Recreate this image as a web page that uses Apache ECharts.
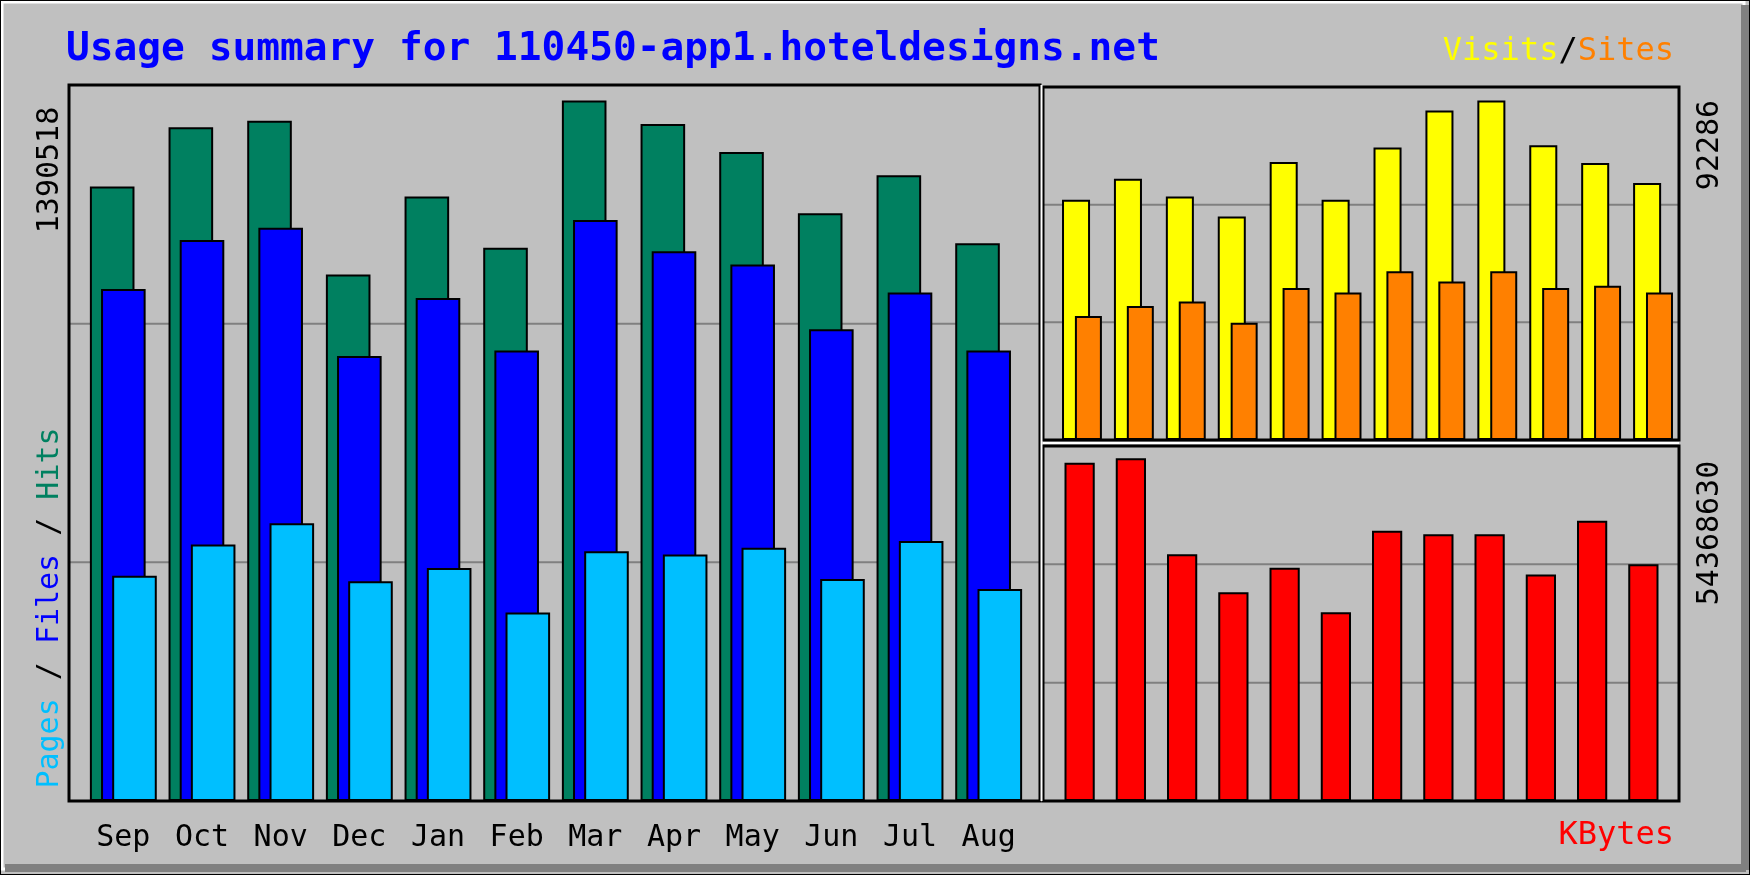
<!DOCTYPE html>
<html><head><meta charset="utf-8">
<script src="https://cdn.jsdelivr.net/npm/echarts@6/dist/echarts.min.js"></script>
<style>html,body{margin:0;padding:0;background:#c0c0c0}#c{width:1750px;height:875px}</style>
</head><body><div id="c"></div>
<script>
const months = ['Sep','Oct','Nov','Dec','Jan','Feb','Mar','Apr','May','Jun','Jul','Aug'];
const hits  = [1193500,1308300,1321300,1022400,1174000,1074300,1360200,1314800,1260600,1141500,1215100,1083000];
const files = [994200,1089500,1113300,864200,976900,875100,1128500,1067800,1041800,916200,987700,875100];
const pages = [437500,498200,539300,426700,452700,366100,485200,478700,491700,431000,504700,411500];
const visits = [62780,68330,63660,58400,72710,62780,76500,86140,88770,77090,72420,67160];
const sites  = [32410,35040,36210,30660,39710,38540,44090,41460,44090,39710,40300,38540];
const kbytes = [51804000,52488000,37784000,31971000,35733000,28894000,41375000,40862000,40862000,34707000,42913000,36246000];
const maxHits = 1390518, maxVisits = 92286, maxKB = 54368630;

const mono = '"DejaVu Sans Mono", monospace';
const chart = echarts.init(document.getElementById('c'));
const panels = [[69,85,971,716],[1043,87,636,353],[1043,446,636,355]];
const baseGraphic = [];
panels.forEach(p=>baseGraphic.push({type:'rect',z:0,shape:{x:p[0],y:p[1],width:p[2],height:p[3]},style:{fill:'#c0c0c0'}}));
const frameGraphic = [
 {type:'rect',z:20,shape:{x:2,y:2,width:1742,height:867},style:{fill:'none',stroke:'#fff',lineWidth:3}},
 {type:'rect',z:20,shape:{x:0,y:0,width:1750,height:875},style:{fill:'none',stroke:'#000',lineWidth:2}},
 {type:'line',z:20,shape:{x1:5,y1:868,x2:1746,y2:868},style:{stroke:'#808080',lineWidth:8}},
 {type:'line',z:20,shape:{x1:1745,y1:5,x2:1745,y2:870},style:{stroke:'#808080',lineWidth:8}},
 {type:'text',z:20,left:66,top:30,style:{text:'Usage summary for 110450-app1.hoteldesigns.net',font:'bold 39.5px '+mono,fill:'#0000ff'}},
 {type:'text',z:20,right:76,top:36,style:{text:'{v|Visits}/{s|Sites}',font:'32px '+mono,fill:'#000',rich:{v:{fill:'#ffff00',font:'32px '+mono},s:{fill:'#ff8000',font:'32px '+mono}}}},
 {type:'text',z:20,right:76,top:820,style:{text:'KBytes',font:'32px '+mono,fill:'#ff0000'}},
 {type:'text',z:20,x:50,y:170,rotation:Math.PI/2,style:{text:String(maxHits),font:'30px '+mono,fill:'#000',align:'center',verticalAlign:'middle'}},
 {type:'text',z:20,x:50,y:608,rotation:Math.PI/2,style:{text:'{p|Pages} / {f|Files} / {h|Hits}',font:'30px '+mono,fill:'#000',align:'center',verticalAlign:'middle',
   rich:{p:{fill:'#00bfff',font:'30px '+mono},f:{fill:'#0000ff',font:'30px '+mono},h:{fill:'#008060',font:'30px '+mono}}}},
 {type:'text',z:20,x:1710,y:145,rotation:Math.PI/2,style:{text:String(maxVisits),font:'30px '+mono,fill:'#000',align:'center',verticalAlign:'middle'}},
 {type:'text',z:20,x:1710,y:533,rotation:Math.PI/2,style:{text:String(maxKB),font:'30px '+mono,fill:'#000',align:'center',verticalAlign:'middle'}}
];
panels.forEach(p=>frameGraphic.push({type:'rect',z:15,shape:{x:p[0],y:p[1],width:p[2],height:p[3]},style:{fill:'none',stroke:'#000',lineWidth:3}}));
frameGraphic.push({type:'line',z:16,shape:{x1:1041.5,y1:85,x2:1041.5,y2:801},style:{stroke:'#fff',lineWidth:2}});
frameGraphic.push({type:'line',z:16,shape:{x1:1043,y1:443,x2:1679,y2:443},style:{stroke:'#fff',lineWidth:2}});

const bs = c => ({color:c, borderColor:'#000', borderWidth:2});
const cat = (gi, show) => ({type:'category', gridIndex:gi, data:months, axisLine:{show:false}, axisTick:{show:false},
  axisLabel:{show:show, color:'#000', fontFamily:mono, fontSize:30, margin:22}});
const val = (gi,max) => ({type:'value', gridIndex:gi, min:0, max:max, interval:max/3, axisLabel:{show:false}, splitLine:{show:false}, axisLine:{show:false}});
chart.setOption({
  animation:false, backgroundColor:'#c0c0c0',
  grid:[{left:84,right:1750-1028,top:85,bottom:74},{left:1056,right:1750-1679,top:87,bottom:875-440},{left:1054,right:1750-1669,top:446,bottom:74}],
  xAxis:[cat(0,true),cat(1,false),cat(2,false)],
  yAxis:[val(0,maxHits),val(1,maxVisits),val(2,maxKB)],
  series:[
    {type:'bar',xAxisIndex:0,yAxisIndex:0,data:hits,barWidth:'56.7%',barGap:'-75%',itemStyle:bs('#008060')},
    {type:'bar',xAxisIndex:0,yAxisIndex:0,data:files,barWidth:'56.7%',barGap:'-75%',itemStyle:bs('#0000ff')},
    {type:'bar',xAxisIndex:0,yAxisIndex:0,data:pages,barWidth:'56.7%',barGap:'-75%',itemStyle:bs('#00bfff')},
    {type:'bar',xAxisIndex:1,yAxisIndex:1,data:visits,barWidth:'54%',barGap:'-54%',itemStyle:bs('#ffff00')},
    {type:'bar',xAxisIndex:1,yAxisIndex:1,data:sites,barWidth:'52%',barGap:'-54%',itemStyle:bs('#ff8000')},
    {type:'bar',xAxisIndex:2,yAxisIndex:2,data:kbytes,barWidth:'59%',itemStyle:bs('#ff0000')}
  ],
  graphic:baseGraphic.concat(frameGraphic)
});
const gl = [];
const specs = [[0,maxHits,panels[0]],[1,maxVisits,panels[1]],[2,maxKB,panels[2]]];
specs.forEach(([gi,max,p])=>{
  [1,2].forEach(k=>{
    const y = chart.convertToPixel({yAxisIndex:gi}, max*k/3);
    gl.push({type:'line',z:1,shape:{x1:p[0],y1:y,x2:p[0]+p[2],y2:y},style:{stroke:'#808080',lineWidth:2}});
  });
});
chart.setOption({graphic:baseGraphic.concat(frameGraphic).concat(gl)});
</script></body></html>
